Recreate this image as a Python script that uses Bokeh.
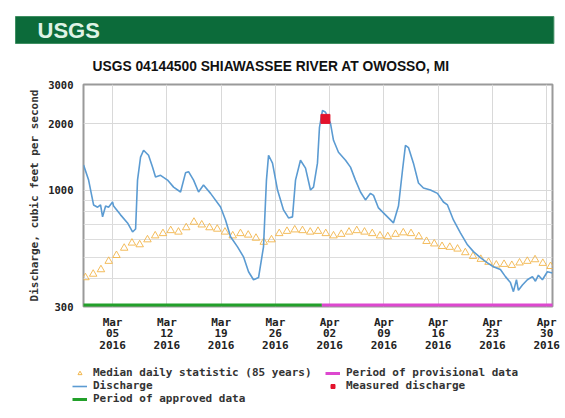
import pandas as pd
from bokeh.plotting import figure
from bokeh.models import (FixedTicker, DatetimeTickFormatter, PrintfTickFormatter,
                          Legend, LegendItem, Range1d, ColumnDataSource, Title)
from bokeh.embed import file_html
from bokeh.resources import INLINE

# ---------------- data ----------------
TITLE = "USGS 04144500 SHIAWASSEE RIVER AT OWOSSO, MI"
Y_LABEL = "Discharge, cubic feet per second"
LOGO_TEXT = "USGS"
START = "2016-03-01"

# discharge: days since 2016-03-01 00:00, and cfs
discharge_day = [0.26, 0.91, 1.55, 2.07, 2.45, 2.71, 3.10, 3.48, 4.00, 4.13,
                 5.03, 5.93, 6.58, 6.97, 7.22, 7.61, 8.00, 8.64, 9.16, 9.54,
                 10.19, 11.09, 11.87, 12.77, 13.41, 13.80, 14.45, 15.09, 15.73, 16.64,
                 17.93, 18.57, 19.22, 20.12, 20.89, 21.54, 22.18, 22.83, 23.47, 23.85,
                 24.12, 24.63, 25.28, 26.05, 26.70, 27.21, 27.60, 28.24, 28.89, 29.53,
                 29.92, 30.43, 30.69, 31.08, 31.47, 32.11, 32.50, 33.14, 34.05, 34.69,
                 35.33, 35.98, 36.62, 37.27, 37.66, 38.30, 39.20, 40.23, 40.88, 41.40,
                 41.78, 42.17, 42.81, 43.46, 44.10, 45.01, 45.91, 46.68, 47.20, 47.97,
                 48.87, 49.78, 50.55, 51.45, 52.36, 53.13, 54.03, 54.68, 55.32, 55.71,
                 56.10, 56.35, 56.87, 57.51, 58.16, 58.55, 58.93, 59.45, 60.09, 60.74]
discharge_cfs = [1300, 1113, 860, 840, 860, 760, 850, 840, 887, 850,
                 776, 714, 650, 670, 1113, 1413, 1517, 1440, 1273, 1150,
                 1170, 1113, 1035, 984, 1200, 1215, 1113, 984, 1057, 970,
                 842, 736, 618, 557, 502, 430, 396, 405, 557, 1113,
                 1440, 1327, 1004, 817, 752, 760, 1113, 1368, 1260, 1004,
                 1035, 1327, 1924, 2293, 2250, 2004, 1682, 1486, 1368, 1273,
                 1113, 984, 906, 970, 950, 834, 776, 714, 850, 1233,
                 1596, 1560, 1327, 1080, 1025, 1004, 970, 887, 860, 736,
                 644, 569, 530, 498, 472, 453, 440, 409, 385, 350,
                 396, 355, 375, 396, 409, 390, 415, 396, 430, 425]

# median daily statistic (85 years), one value per day Mar 1 .. Apr 30
median_cfs = [405, 420, 440, 480, 510, 550, 580, 570, 600, 625,
              640, 660, 650, 680, 720, 700, 680, 670, 650, 625,
              640, 630, 610, 585, 600, 640, 655, 665, 660, 650,
              655, 640, 625, 635, 650, 660, 650, 640, 625, 620,
              635, 645, 640, 620, 590, 575, 560, 555, 545, 525,
              505, 490, 475, 462, 465, 460, 472, 480, 488, 470,
              455]

measured_time = ["2016-04-01 11:00"]
measured_cfs = [2100]

approved_period = ["2016-03-01", "2016-04-01"]
provisional_period = ["2016-04-01", "2016-05-01"]

x_tick_dates = ["2016-03-05", "2016-03-12", "2016-03-19", "2016-03-26", "2016-04-02",
                "2016-04-09", "2016-04-16", "2016-04-23", "2016-04-30"]
y_ticks = [300, 1000, 2000, 3000]
y_minor_ticks = [400, 500, 600, 700, 800, 900]
x_view = ["2016-03-01 06:00", "2016-04-30 18:00"]
y_view = [300, 3000]

LEGEND_ROWS = [
    ["Median daily statistic (85 years)", "Period of provisional data"],
    ["Discharge", "Measured discharge"],
    ["Period of approved data"],
]

# ---------------- build ----------------
def ms(ts):
    return pd.Timestamp(ts).value / 1e6

t0 = pd.Timestamp(START)
dis_x = [t0 + pd.Timedelta(days=d) for d in discharge_day]
med_x = [t0 + pd.Timedelta(days=i, hours=12) for i in range(len(median_cfs))]

MONO = "DejaVu Sans Mono"
GREEN = "#22a02a"
MAGENTA = "#dd48cf"
BLUE = "#5b9bd2"
ORANGE = "#f2b54a"
RED = "#e3132c"
HEADER = "#0c6b3a"

W = 565
H_MAIN, H_LEG = 360, 56
BL, BR, BT, BB = 83, 13, 84, 54   # frame at x 83..552, y 84..306

p = figure(width=W, height=H_MAIN, x_axis_type="datetime", y_axis_type="log",
           x_range=Range1d(pd.Timestamp(x_view[0]), pd.Timestamp(x_view[1])),
           y_range=Range1d(*y_view),
           output_backend="svg", toolbar_location=None,
           min_border_left=BL, min_border_right=BR, min_border_top=BT, min_border_bottom=BB)

# outer title slot: green USGS header bar
p.title.text = LOGO_TEXT
p.title.align = "left"
p.title.offset = -68
p.title.text_font = "Liberation Sans"
p.title.text_font_style = "bold"
p.title.text_font_size = "22px"
p.title.text_color = "#dff3e6"
p.title.background_fill_color = HEADER
p.title.background_fill_alpha = 1.0
p.title.border_line_color = "#3f8f62"
p.title.border_line_width = 1
p.title.padding = dict(left=22, right=454, top=1, bottom=1)
p.title.standoff = 6

# inner title slot: chart title
main_title = Title(text=TITLE, align="left", offset=9,
                   text_font="Liberation Sans", text_font_style="bold",
                   text_font_size="13.8px", text_color="#111111", standoff=21)
p.add_layout(main_title, "above")

p.outline_line_color = "#9a9a9a"
p.outline_line_width = 2
p.background_fill_color = "white"
p.border_fill_color = "white"

# grids
p.xgrid.ticker = FixedTicker(ticks=[ms(d) for d in x_tick_dates])
p.xgrid.grid_line_color = "#d9d9d9"
p.ygrid.grid_line_color = "#d9d9d9"
p.ygrid.minor_grid_line_color = "#dddddd"

# axes
xa = p.xaxis[0]
xa.ticker = FixedTicker(ticks=[ms(d) for d in x_tick_dates])
fmt = "%b\n%d\n%Y"
xa.formatter = DatetimeTickFormatter(days=fmt, months=fmt, hours=fmt, years=fmt,
                                     minutes=fmt, seconds=fmt, milliseconds=fmt,
                                     microseconds=fmt, minsec=fmt, hourmin=fmt)
xa.major_label_text_font = MONO
xa.major_label_text_font_style = "bold"
xa.major_label_text_font_size = "11px"
xa.major_label_text_line_height = 0.9
xa.major_label_text_color = "#222222"
xa.major_tick_line_color = None
xa.minor_tick_line_color = None
xa.major_tick_out = 0
xa.major_tick_in = 0
xa.minor_tick_out = 0
xa.axis_line_color = None
xa.major_label_standoff = 9

ya = p.yaxis[0]
ya.ticker = FixedTicker(ticks=y_ticks, minor_ticks=y_minor_ticks)
ya.formatter = PrintfTickFormatter(format="%d")
ya.major_label_text_font = MONO
ya.major_label_text_font_style = "bold"
ya.major_label_text_font_size = "10.5px"
ya.major_label_text_color = "#222222"
ya.major_tick_line_color = None
ya.minor_tick_line_color = None
ya.major_tick_out = 0
ya.major_tick_in = 0
ya.minor_tick_out = 0
ya.axis_line_color = None
ya.major_label_standoff = 10
ya.axis_label = Y_LABEL
ya.axis_label_text_font = MONO
ya.axis_label_text_font_style = "bold"
ya.axis_label_text_font_size = "11px"
ya.axis_label_text_color = "#333333"
ya.axis_label_standoff = 4

# glyphs
med_src = ColumnDataSource(dict(x=med_x, y=median_cfs))
p.scatter("x", "y", source=med_src, marker="triangle", size=7.5,
          fill_color=None, line_color=ORANGE, line_width=1, line_alpha=0.9)

dis_src = ColumnDataSource(dict(x=dis_x, y=discharge_cfs))
p.line("x", "y", source=dis_src, line_color=BLUE, line_width=1.6)

p.line([pd.Timestamp(d) for d in approved_period], [y_view[0]] * 2,
       line_color=GREEN, line_width=6)
p.line([pd.Timestamp(d) for d in provisional_period], [y_view[0]] * 2,
       line_color=MAGENTA, line_width=6)

p.scatter([pd.Timestamp(t) for t in measured_time], measured_cfs,
          marker="square", size=9, fill_color=RED, line_color=RED)

# ---------------- legend strip (separate canvas under the chart) ----------------
lf = figure(width=W, height=H_LEG, output_backend="svg", toolbar_location=None,
            x_axis_location=None, y_axis_location=None,
            min_border_left=0, min_border_right=0, min_border_top=0, min_border_bottom=0)
lf.outline_line_color = None
lf.xgrid.visible = False
lf.ygrid.visible = False
lf.background_fill_color = "white"
lf.border_fill_color = "white"

nan = float("nan")
keys = {
    "Median daily statistic (85 years)": lf.scatter([nan], [nan], marker="triangle", size=7.5,
                                                    fill_color=None, line_color=ORANGE, line_width=1),
    "Discharge": lf.line([nan], [nan], line_color=BLUE, line_width=1.6),
    "Period of approved data": lf.line([nan], [nan], line_color=GREEN, line_width=3),
    "Period of provisional data": lf.line([nan], [nan], line_color=MAGENTA, line_width=3),
    "Measured discharge": lf.scatter([nan], [nan], marker="square", size=9,
                                     fill_color=RED, line_color=RED),
}

ROW_H = 13
for i, row in enumerate(LEGEND_ROWS):
    top = 6 + ROW_H * i
    lg = Legend(items=[LegendItem(label=t, renderers=[keys[t]]) for t in row],
                orientation="horizontal", location=(72, H_LEG - top - ROW_H))
    lg.label_text_font = MONO
    lg.label_text_font_style = "bold"
    lg.label_text_font_size = "11px"
    lg.label_text_color = "#333333"
    lg.glyph_width = 15
    lg.glyph_height = 10
    lg.label_height = 10
    lg.label_width = 229
    lg.label_standoff = 6
    lg.spacing = 3
    lg.padding = 0
    lg.margin = 0
    lg.border_line_color = None
    lg.background_fill_alpha = 0
    lf.add_layout(lg, "center")

# two independent roots stacked on the page (no frame alignment between them)
open("out.html", "w").write(file_html([p, lf], INLINE))
